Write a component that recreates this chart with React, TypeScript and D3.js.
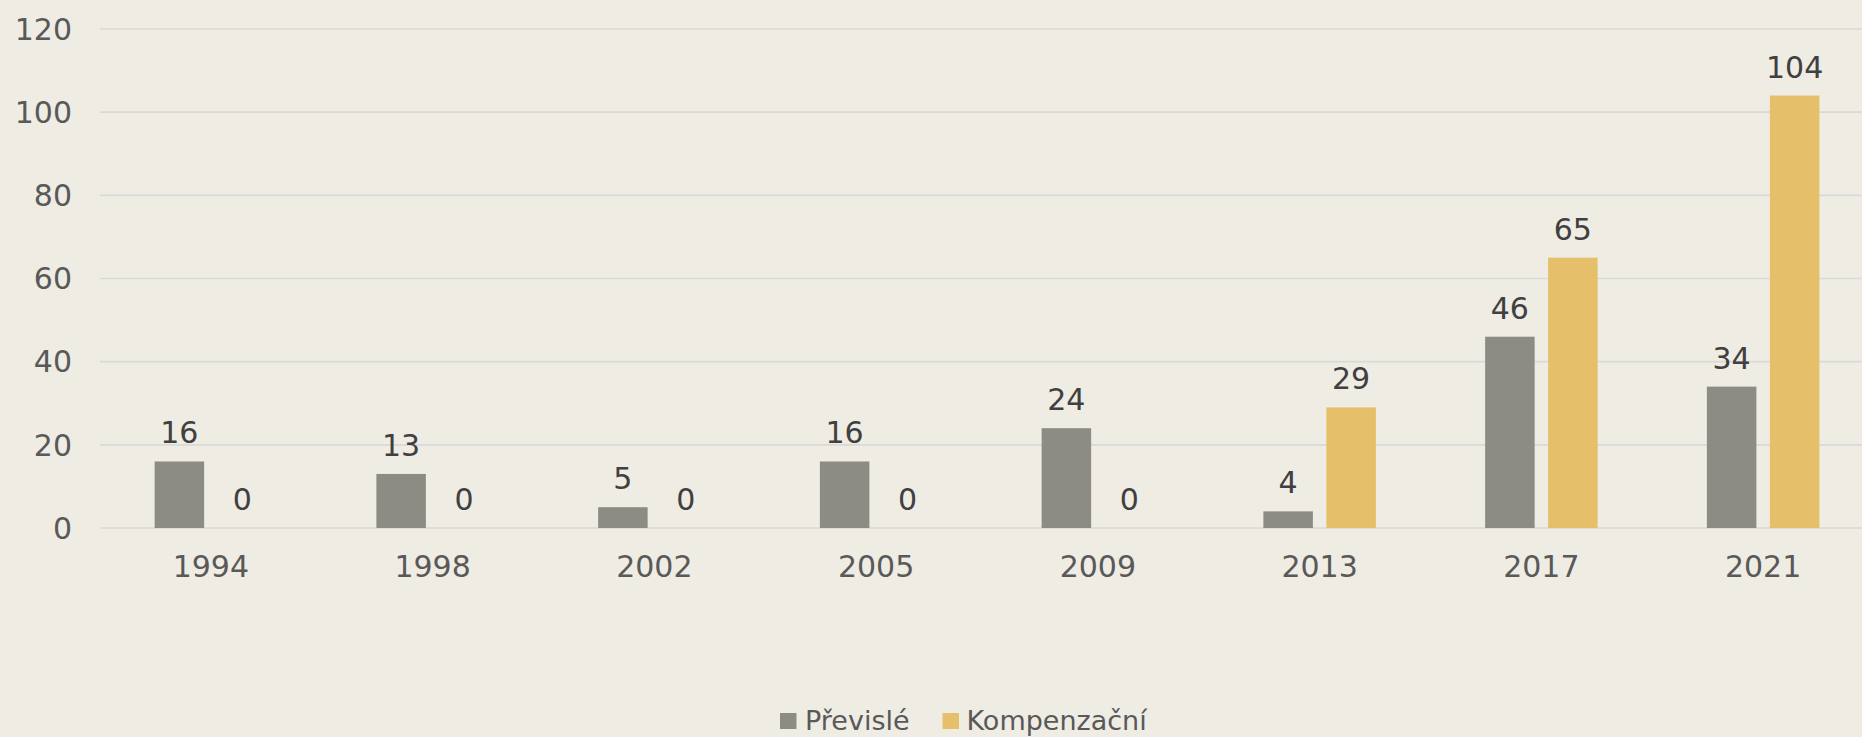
import React from "react";
import * as d3 from "d3";

const categories = ["1994", "1998", "2002", "2005", "2009", "2013", "2017", "2021"];
const previsle = [16, 13, 5, 16, 24, 4, 46, 34];
const kompenzacni = [0, 0, 0, 0, 0, 29, 65, 104];
const yTicks = [0, 20, 40, 60, 80, 100, 120];
const seriesNames = ["Převislé", "Kompenzační"];
const seriesColors = ["#8c8c85", "#e5bf69"];

const W = 1862;
const H = 737;
const FONT = "'DejaVu Sans', sans-serif";

export default function App() {
  const x0 = d3.scaleBand<string>().domain(categories).range([100, 1874]).paddingInner(0).paddingOuter(0);
  const bw = x0.bandwidth();
  const groupW = 112.5;
  const x1 = d3
    .scaleBand<string>()
    .domain(seriesNames)
    .range([(bw - groupW) / 2, (bw + groupW) / 2])
    .paddingInner(0.214)
    .paddingOuter(0);
  const y = d3.scaleLinear().domain([0, 120]).range([528, 29]);
  const series = [previsle, kompenzacni];

  return (
    <svg
      width={W}
      height={H}
      style={{ position: "absolute", left: 0, top: 0, background: "#efece4" }}
      fontFamily={FONT}
    >
      <rect x={0} y={0} width={W} height={H} fill="#efece4" />
      {yTicks.map((t) => (
        <g key={t}>
          <line x1={100} x2={W} y1={y(t)} y2={y(t)} stroke="#d9d9d9" strokeWidth={1.6} />
          <text x={72} y={y(t)} dy="0.36em" textAnchor="end" fontSize={30} fill="#595959">
            {t}
          </text>
        </g>
      ))}
      {categories.map((c, i) => (
        <g key={c} transform={`translate(${x0(c)},0)`}>
          {series.map((vals, s) => {
            const v = vals[i];
            const bx = x1(seriesNames[s])!;
            return (
              <g key={s}>
                {v > 0 && (
                  <rect x={bx} y={y(v)} width={x1.bandwidth()} height={y(0) - y(v)} fill={seriesColors[s]} />
                )}
                <text
                  x={bx + x1.bandwidth() / 2}
                  y={y(v) - 18}
                  textAnchor="middle"
                  fontSize={30}
                  fill="#404040"
                >
                  {v}
                </text>
              </g>
            );
          })}
          <text x={bw / 2} y={577} textAnchor="middle" fontSize={30} fill="#595959">
            {c}
          </text>
        </g>
      ))}
      <g>
        <rect x={780} y={713} width={16.5} height={16} fill={seriesColors[0]} />
        <text x={805} y={730} fontSize={27} fill="#595959">
          {seriesNames[0]}
        </text>
        <rect x={942.5} y={713} width={16.5} height={16} fill={seriesColors[1]} />
        <text x={966.5} y={730} fontSize={27} fill="#595959">
          {seriesNames[1]}
        </text>
      </g>
    </svg>
  );
}
